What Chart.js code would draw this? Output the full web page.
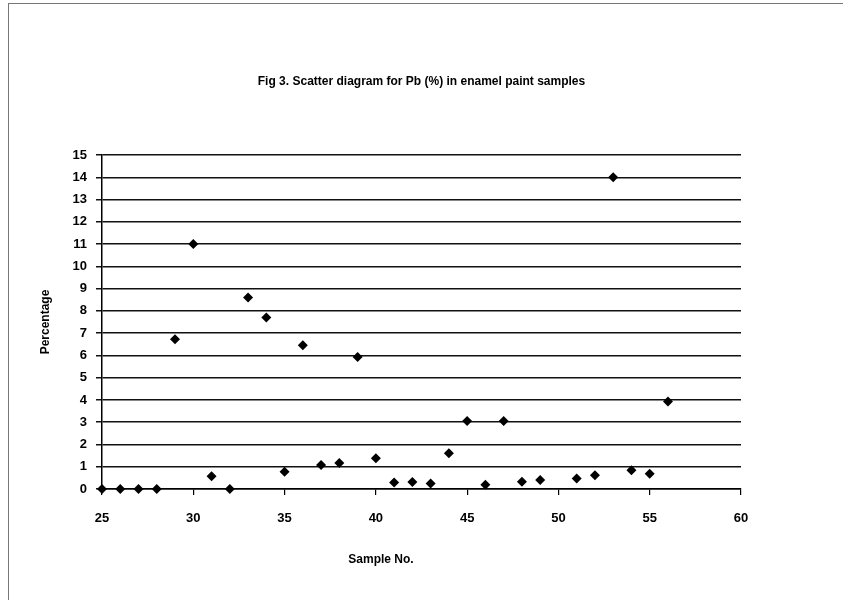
<!DOCTYPE html>
<html>
<head>
<meta charset="utf-8">
<script src="https://cdn.jsdelivr.net/npm/chart.js@4"></script>
<style>
    html, body { margin: 0; padding: 0; background: #fff; }
    #wrap { width: 843px; height: 600px; position: relative; }
</style>
</head>
<body>
<div id="wrap"><canvas id="pbChart" width="843" height="600"></canvas></div>
<script>
// Pb (%) per enamel paint sample
const sampleNo = [25, 26, 27, 28, 29, 30, 31, 32, 33, 34, 35, 36, 37, 38, 39, 40,
                  41, 42, 43, 44, 45, 46, 47, 48, 49, 51, 52, 53, 54, 55, 56];
const pbPercent = [0, 0, 0, 0, 6.72, 11.0, 0.57, 0, 8.6, 7.7, 0.78, 6.46, 1.08, 1.17, 5.93, 1.38,
                   0.29, 0.31, 0.25, 1.6, 3.05, 0.19, 3.05, 0.32, 0.4, 0.47, 0.62, 14.0, 0.84, 0.69, 3.93];
const xTicks = { min: 25, max: 60, step: 5 };
const yTicks = { min: 0, max: 15, step: 1 };

const FONT = "'Liberation Sans', Arial, sans-serif";

const points = sampleNo.map((s, i) => ({ x: s, y: pbPercent[i] }));

// page frame + x axis title (sits left of centre in the original)
const extras = {
    id: 'extras',
    beforeDraw(chart) {
        const c = chart.ctx;
        c.save();
        c.strokeStyle = '#777';
        c.lineWidth = 1;
        c.strokeRect(8.5, 3.5, 900, 700);
        c.restore();
    },
    afterDraw(chart) {
        const c = chart.ctx;
        c.save();
        c.fillStyle = '#000';
        c.font = "bold 12px " + FONT;
        c.textAlign = 'center';
        c.textBaseline = 'middle';
        c.fillText('Sample No.', 381, 560);
        c.restore();
    }
};

new Chart(document.getElementById('pbChart'), {
    type: 'scatter',
    data: {
        datasets: [{
            label: 'Pb (%)',
            data: points,
            pointStyle: 'rectRot',
            pointRadius: 5,
            pointHoverRadius: 5,
            backgroundColor: '#000',
            borderColor: '#000',
            borderWidth: 0,
            clip: false
        }]
    },
    options: {
        responsive: false,
        animation: false,
        layout: { padding: 0 },
        plugins: {
            legend: { display: false },
            tooltip: { enabled: false },
            title: {
                display: true,
                text: 'Fig 3. Scatter diagram for Pb (%) in enamel paint samples',
                color: '#000',
                font: { family: FONT, size: 12, weight: 'bold', lineHeight: 1.2 },
                padding: { top: 74.8, bottom: 65.8 }
            }
        },
        scales: {
            x: {
                type: 'linear',
                min: xTicks.min,
                max: xTicks.max,
                ticks: {
                    stepSize: xTicks.step,
                    color: '#000',
                    padding: 16,
                    font: { family: FONT, size: 13, weight: 'bold' }
                },
                grid: {
                    drawOnChartArea: false,
                    drawTicks: true,
                    tickLength: 6,
                    color: '#000',
                    lineWidth: 1.2
                },
                border: { display: true, color: '#000', width: 1.5 },
                afterFit(scale) { scale.height = 111; }
            },
            y: {
                type: 'linear',
                min: yTicks.min,
                max: yTicks.max,
                ticks: {
                    stepSize: yTicks.step,
                    color: '#000',
                    padding: 9,
                    font: { family: FONT, size: 13, weight: 'bold' }
                },
                grid: {
                    color: '#111',
                    lineWidth: 1.5,
                    tickLength: 6
                },
                border: { display: true, color: '#000', width: 1.5 },
                title: {
                    display: true,
                    text: 'Percentage',
                    color: '#000',
                    font: { family: FONT, size: 12, weight: 'bold', lineHeight: 1.2 },
                    padding: { top: 38, bottom: 0 }
                },
                afterFit(scale) { scale.width = 102; }
            },
            // empty strip on the right so the plot ends at 60 like the original
            rightSpace: {
                type: 'linear',
                position: 'right',
                display: true,
                ticks: { display: false },
                grid: { display: false, drawTicks: false },
                border: { display: false },
                afterFit(scale) { scale.width = 102; }
            }
        }
    },
    plugins: [extras]
});
</script>
</body>
</html>
